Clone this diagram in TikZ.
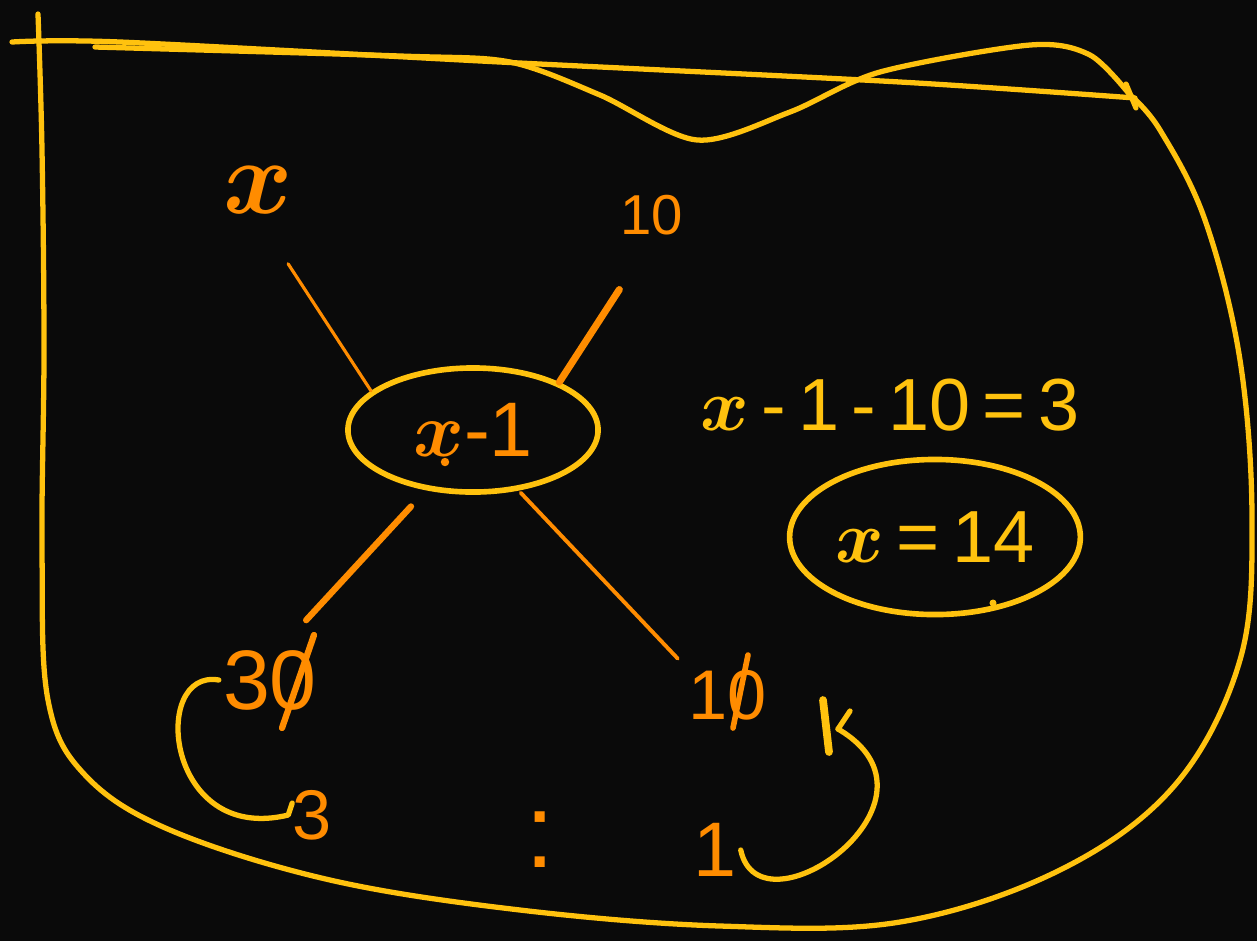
\RequirePackage{fix-cm}
\documentclass[tikz,border=0pt]{standalone}
\usepackage{fontspec}
\setmainfont{Liberation Sans}
\usetikzlibrary{shapes.geometric}
\definecolor{ink}{HTML}{FF8C00}
\definecolor{gold}{HTML}{FFC20E}
\definecolor{board}{HTML}{0A0A0A}
\begin{document}
\begin{tikzpicture}[x=0.01cm, y=-0.01cm,
  lbl/.style={text=ink, inner sep=1pt, font=\fontsize{22}{26}\selectfont\boldmath},
  note/.style={text=gold, inner sep=1pt, font=\fontsize{21}{25}\selectfont\boldmath},
  ring/.style={draw=gold, line width=1.6pt, ellipse},
  edge/.style={draw=ink, line cap=round},
  pen/.style={draw=gold, line width=1.5pt, line cap=round, line join=round}]
\fill[board] (0,0) rectangle (1257,941);
\useasboundingbox (0,0) rectangle (1257,941);
\draw[pen] plot[smooth] coordinates {(12,42) (120,42) (500,62) (900,82) (1135,98)};
\draw[pen] (1126,84) -- (1136,108);
\draw[pen] plot[smooth, tension=0.6] coordinates {(38,14) (42,150) (44,350) (42,550) (48,700) (85,775) (170,830) (330,880) (520,910) (720,926) (900,922) (1060,870) (1175,785) (1240,660) (1252,520) (1240,360) (1205,220) (1160,130) (1130,95)};
\draw[pen] plot[smooth] coordinates {(95,47) (400,56) (510,62) (600,95) (697,140) (790,112) (880,72) (1030,45) (1090,55) (1130,95)};
\node (xm1) [ring, lbl, minimum width=2.5cm, minimum height=1.24cm] at (473,430) {$x$-1};
\node (xtop) [lbl, font=\fontsize{30}{34}\selectfont\boldmath] at (258,190) {$x$};
\node (tentop) [lbl, font=\fontsize{16}{20}\selectfont] at (652,215) {10};
\node (n30) [lbl, font=\fontsize{24}{28}\selectfont] at (270,680) {30};
\node (n10) [lbl, font=\fontsize{20}{24}\selectfont] at (728,695) {10};
\node (n3) [lbl, font=\fontsize{20}{24}\selectfont] at (312,815) {3};
\node (colon) [lbl, font=\fontsize{30}{34}\selectfont] at (540,840) {:};
\node (n1) [lbl] at (715,850) {1};
\node (eq) [note] at (890,405) {$x$\,-\,1\,-\,10\,=\,3};
\node (res) [ring, note, minimum width=2.86cm, minimum height=1.55cm] at (935,537) {$x$\,=\,14};
\draw[edge, line width=0.9pt, shorten <=0.55cm] (xtop.south) -- (xm1.159);
\draw[edge, line width=2pt, shorten <=0.6cm] (tentop.south) -- (xm1.29);
\draw[edge, line width=1.8pt, shorten <=0.22cm, shorten >=0.35cm] (xm1.232) -- (n30.70);
\draw[edge, line width=1.1pt, shorten <=0.03cm, shorten >=0.1cm] (xm1.307) -- (n10.north west);
\draw[edge, line width=1.8pt] ([shift={(44,-45)}]n30.center) -- ([shift={(12,48)}]n30.center);
\draw[edge, line width=1.6pt] ([shift={(20,-40)}]n10.center) -- ([shift={(5,33)}]n10.center);
\draw[pen] (n30.west) .. controls (150,668) and (165,845) .. (n3.west) -- ++(4,-12);
\coordinate (tip) at (838,729);
\draw[pen] (n1.east) .. controls (760,940) and (960,800) .. (tip);
\draw[pen] (tip) -- ++(12,-18);
\draw[pen, line width=2.2pt] (823,700) -- (829,752);
\fill[ink] (445,462) circle (1.2pt);
\fill[gold] (993,603) circle (1pt);
\end{tikzpicture}
\end{document}
